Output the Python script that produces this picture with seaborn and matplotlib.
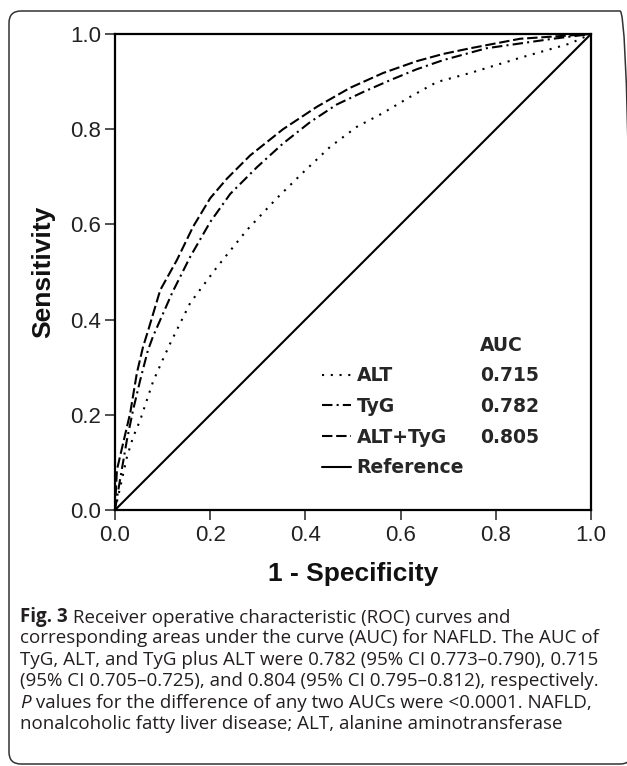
import matplotlib
matplotlib.use("Agg")
import matplotlib.pyplot as plt
from matplotlib.patches import FancyBboxPatch
from matplotlib.lines import Line2D
import seaborn as sns

# ROC curves: 1 - specificity (fpr) vs sensitivity (tpr)
alt_fpr = [0.0, 0.011, 0.025, 0.038, 0.053, 0.067, 0.08, 0.1, 0.116, 0.158, 0.214,
           0.277, 0.34, 0.395, 0.452, 0.508, 0.563, 0.62, 0.676, 0.746, 0.851, 0.956, 1.0]
alt_tpr = [0.0, 0.048, 0.111, 0.153, 0.189, 0.231, 0.27, 0.315, 0.35, 0.435, 0.51,
           0.588, 0.655, 0.709, 0.763, 0.805, 0.834, 0.868, 0.899, 0.918, 0.95, 0.98, 1.0]

tyg_fpr = [0.0, 0.01, 0.025, 0.038, 0.053, 0.069, 0.08, 0.12, 0.158, 0.2, 0.242, 0.298,
           0.353, 0.41, 0.466, 0.521, 0.578, 0.634, 0.689, 0.78, 0.92, 1.0]
tyg_tpr = [0.0, 0.06, 0.147, 0.21, 0.273, 0.335, 0.365, 0.456, 0.532, 0.605, 0.664, 0.72,
           0.77, 0.815, 0.852, 0.878, 0.903, 0.926, 0.945, 0.97, 0.99, 1.0]

combo_fpr = [0.0, 0.004, 0.017, 0.032, 0.046, 0.059, 0.069, 0.095, 0.13, 0.164, 0.2, 0.235,
             0.284, 0.353, 0.424, 0.494, 0.563, 0.634, 0.689, 0.746, 0.851, 1.0]
combo_tpr = [0.0, 0.084, 0.14, 0.204, 0.288, 0.343, 0.375, 0.462, 0.525, 0.595, 0.655, 0.696,
             0.745, 0.8, 0.847, 0.887, 0.918, 0.943, 0.958, 0.97, 0.99, 1.0]

ref_fpr = [0.0, 1.0]
ref_tpr = [0.0, 1.0]

curve_names = ["ALT", "TyG", "ALT+TyG", "Reference"]
auc_values = ["0.715", "0.782", "0.805", ""]
ticks = [0.0, 0.2, 0.4, 0.6, 0.8, 1.0]
tick_labels = ["0.0", "0.2", "0.4", "0.6", "0.8", "1.0"]

caption_lines = [
    " Receiver operative characteristic (ROC) curves and",
    "corresponding areas under the curve (AUC) for NAFLD. The AUC of",
    "TyG, ALT, and TyG plus ALT were 0.782 (95% CI 0.773\u20130.790), 0.715",
    "(95% CI 0.705\u20130.725), and 0.804 (95% CI 0.795\u20130.812), respectively.",
    " values for the difference of any two AUCs were <0.0001. NAFLD,",
    "nonalcoholic fatty liver disease; ALT, alanine aminotransferase",
]

sns.set_theme(style="ticks")
plt.rcParams["font.family"] = ["Liberation Sans", "DejaVu Sans"]

fig = plt.figure(figsize=(6.27, 7.66), dpi=100)
ax = fig.add_axes([0.1834, 0.3342, 0.7592, 0.6214])

styles = [(0, (1.0, 3.2)), (0, (5, 2, 1, 2)), (0, (5, 1.8)), "-"]
series = [(alt_fpr, alt_tpr), (tyg_fpr, tyg_tpr), (combo_fpr, combo_tpr), (ref_fpr, ref_tpr)]
for (fx, ty), ls, name in zip(series, styles, curve_names):
    sns.lineplot(x=fx, y=ty, ax=ax, color="black", lw=1.5, linestyle=ls,
                 sort=False, estimator=None, label=name)

ax.set_xlim(0, 1)
ax.set_ylim(0, 1)
ax.set_xticks(ticks)
ax.set_yticks(ticks)
ax.set_xticklabels(tick_labels)
ax.set_yticklabels(tick_labels)
ax.tick_params(axis="both", direction="out", length=7, width=1.2, color="#333333",
               labelsize=16, labelcolor="#222222", pad=3)
ax.tick_params(axis="x", pad=3.5)
for sp in ax.spines.values():
    sp.set_visible(True)
    sp.set_linewidth(1.6)
    sp.set_color("black")

ax.set_xlabel("1 - Specificity", fontsize=19, fontweight="bold", color="#111111", labelpad=12)
ax.set_ylabel("Sensitivity", fontsize=19, fontweight="bold", color="#111111", labelpad=11)

# legend: names with line samples, plus an AUC column
handles = [Line2D([], [], color="black", lw=1.5, linestyle=ls) for ls in styles]
leg_font = {"family": "DejaVu Sans", "weight": "bold", "size": 13.5}
leg1 = ax.legend(handles, curve_names, loc="upper left", bbox_to_anchor=(0.435, 0.366),
                 frameon=False, prop=leg_font, handlelength=1.55, handletextpad=0.3,
                 labelspacing=0.62, borderpad=0, borderaxespad=0, title=" ",
                 title_fontproperties=leg_font)
ax.add_artist(leg1)
blank = [Line2D([], [], color="none") for _ in auc_values]
leg2 = ax.legend(blank, auc_values, loc="upper left", bbox_to_anchor=(0.767, 0.366),
                 frameon=False, prop=leg_font, handlelength=0, handletextpad=0,
                 labelspacing=0.62, borderpad=0, borderaxespad=0, title="AUC",
                 title_fontproperties=leg_font, alignment="left")

# outer rounded frame
frame = FancyBboxPatch((0.09, 0.02), 6.23, 7.53, boxstyle="round,pad=0,rounding_size=0.12",
                       transform=fig.dpi_scale_trans, fill=False, lw=1.1, ec="#333333")
fig.patches.append(frame)

# caption
cap_font = ["Open Sans", "DejaVu Sans"]
cap_col = "#231f20"
cap_size = 13.5
x0 = 20 / 627
base_px = [622, 643, 665, 686, 708, 729]
ys = [1 - b / 766 for b in base_px]
t = fig.text(x0, ys[0], "Fig. 3", fontsize=cap_size, fontweight="bold", family=cap_font,
             color=cap_col, va="baseline")
plt.annotate(caption_lines[0], xy=(1, 0), xycoords=t, va="bottom", ha="left",
             fontsize=cap_size, family=cap_font, color=cap_col, annotation_clip=False)
for i in [1, 2, 3, 5]:
    fig.text(x0, ys[i], caption_lines[i], fontsize=cap_size, family=cap_font,
             color=cap_col, va="baseline")
p = fig.text(x0, ys[4], "P", fontsize=cap_size, fontstyle="italic", family=cap_font,
             color=cap_col, va="baseline")
plt.annotate(caption_lines[4], xy=(1, 0), xycoords=p, va="bottom", ha="left",
             fontsize=cap_size, family=cap_font, color=cap_col, annotation_clip=False)

fig.savefig("out.png", dpi=100)
